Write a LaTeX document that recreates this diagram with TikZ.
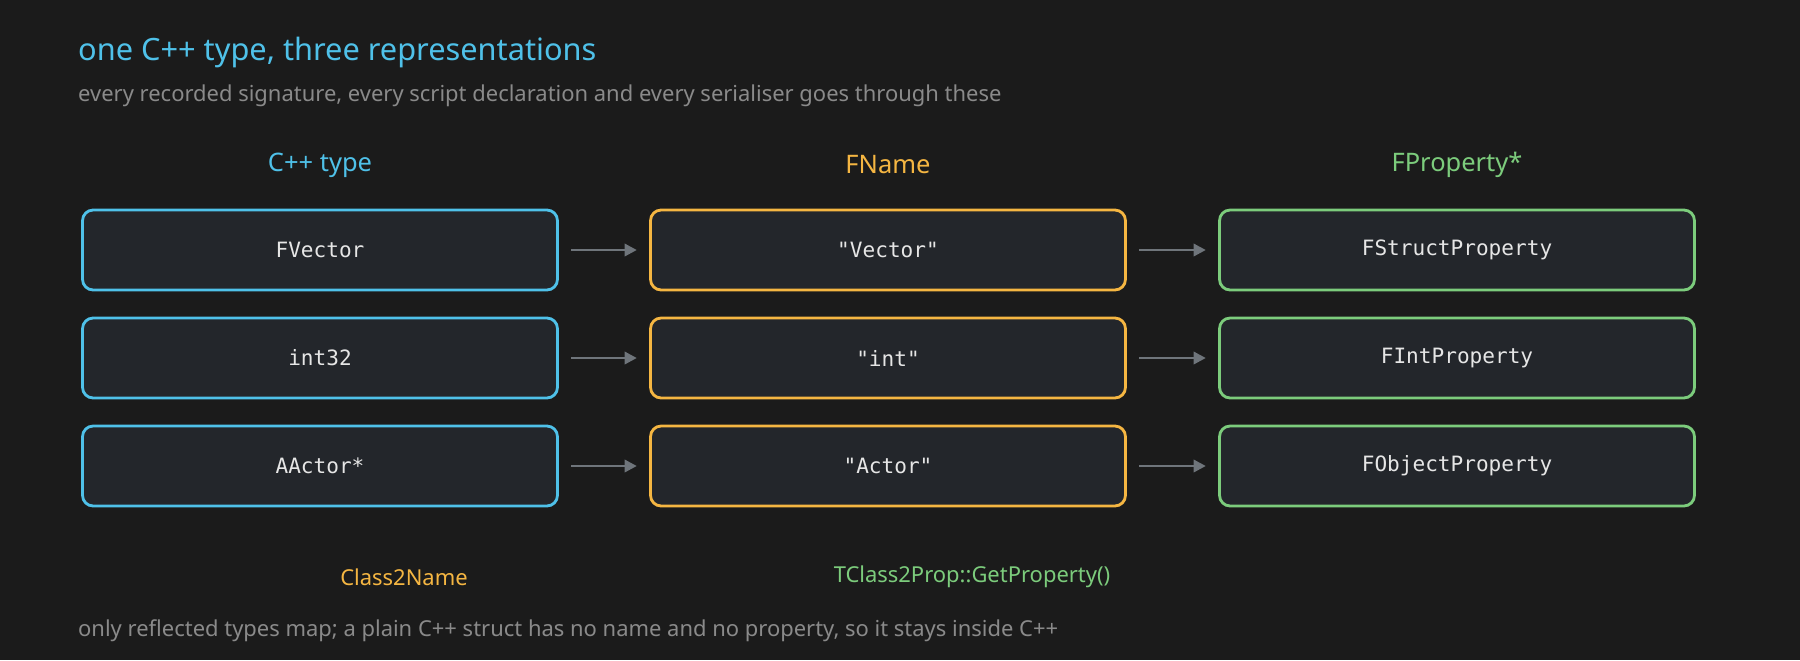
\documentclass[tikz,border=0pt]{standalone}
\usepackage{fontspec}
\setmainfont{Noto Sans}
\setmonofont{DejaVu Sans Mono}
\usetikzlibrary{arrows.meta}
\definecolor{bg}{HTML}{1B1B1B}
\definecolor{boxfill}{HTML}{23262B}
\definecolor{cblue}{HTML}{4FC1E9}
\definecolor{corange}{HTML}{F5B642}
\definecolor{cgreen}{HTML}{7CCC7C}
\definecolor{cgray}{HTML}{8A8A8A}
\definecolor{carrow}{HTML}{6F757B}
\definecolor{ctext}{HTML}{E6E6E6}
\begin{document}
\begin{tikzpicture}[x=0.02cm,y=-0.02cm,
  box/.style={draw=#1,line width=1.6pt,fill=boxfill,rounded corners=6pt,minimum width=9.5cm,minimum height=1.6cm,inner sep=0pt,text=ctext,font=\ttfamily\fontsize{12}{14}\selectfont},
  hdr/.style={text=#1,font=\fontsize{14.5}{17}\selectfont,anchor=center},
  arr/.style={-{Triangle[length=7pt,width=7pt]},draw=carrow,line width=1.6pt}]
\fill[bg] (0,0) rectangle (1800,660);
\useasboundingbox (0,0) rectangle (1800,660);
\node[anchor=west,text=cblue,font=\fontsize{17.5}{20}\selectfont] (title) at (72,53) {one C++ type, three representations};
\node[anchor=west,text=cgray,font=\fontsize{12.5}{14}\selectfont] (sub) at (72,96) {every recorded signature, every script declaration and every serialiser goes through these};
\node[hdr=cblue] (h1) at (320,165) {C++ type};
\node[hdr=corange] (h2) at (888,165) {FName};
\node[hdr=cgreen] (h3) at (1457,165) {FProperty*};
\foreach \i/\y/\a/\b/\c in {1/250/FVector/"Vector"/FStructProperty, 2/358/int32/"int"/FIntProperty, 3/466/AActor*/"Actor"/FObjectProperty}{
  \node[box=cblue] (a\i) at (320,\y) {\a};
  \node[box=corange] (b\i) at (888,\y) {\b};
  \node[box=cgreen] (c\i) at (1457,\y) {\c};
  \draw[arr] ([xshift=7]a\i.east) -- ([xshift=-7]b\i.west);
  \draw[arr] ([xshift=7]b\i.east) -- ([xshift=-7]c\i.west);
}
\node[text=corange,font=\fontsize{12.5}{14}\selectfont] (l1) at (404,577) {Class2Name};
\node[text=cgreen,font=\fontsize{12.5}{14}\selectfont] (l2) at (972,577) {TClass2Prop::GetProperty()};
\node[anchor=west,text=cgray,font=\fontsize{12.5}{14}\selectfont] (foot) at (72,631) {only reflected types map; a plain C++ struct has no name and no property, so it stays inside C++};
\end{tikzpicture}
\end{document}
